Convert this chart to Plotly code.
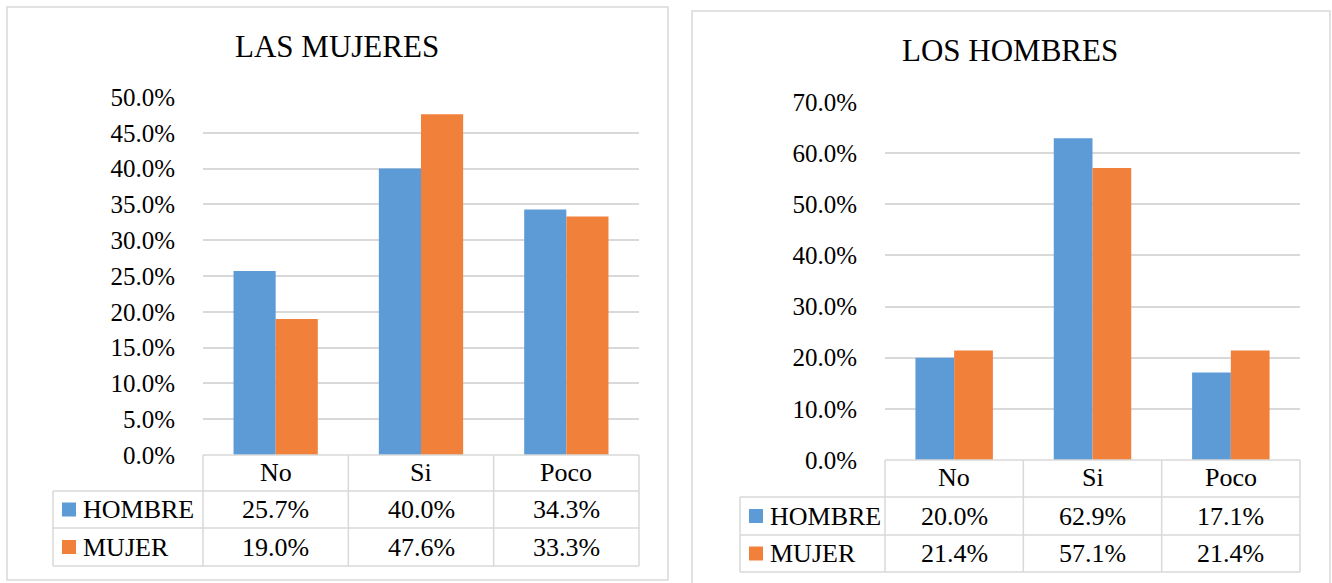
import plotly.graph_objects as go

categories = ["No", "Si", "Poco"]
series_names = ["HOMBRE", "MUJER"]
mujeres_hombre = [0.257, 0.400, 0.343]
mujeres_mujer = [0.190, 0.476, 0.333]
hombres_hombre = [0.200, 0.629, 0.171]
hombres_mujer = [0.214, 0.571, 0.214]
titles = ["LAS MUJERES", "LOS HOMBRES"]

W, H = 1332, 583
FONT = "Liberation Serif"
BLUE = "#5D9BD7"
ORANGE = "#F0803A"
GRID = "#D9D9D9"
COLORS = [BLUE, ORANGE]
TICK_SIZE = 25
TABLE_SIZE = 26
TITLE_SIZE = 31


def xp(x):
    return x / W


def yp(y):
    return 1 - y / H


panels = [
    dict(title=titles[0], data=[mujeres_hombre, mujeres_mujer], xa="x", ya="y",
         box=(7, 7, 668, 580), title_xy=(337, 47),
         px0=203, px1=639, y0=455, ytop=97, ymax=0.5, dtick=0.05,
         rows=(455, 491, 528, 566), leg_left=53, bw=0.29),
    dict(title=titles[1], data=[hombres_hombre, hombres_mujer], xa="x2", ya="y2",
         box=(692, 11, 1330, 590), title_xy=(1010, 51),
         px0=885, px1=1300, y0=460, ytop=102, ymax=0.7, dtick=0.1,
         rows=(460, 497, 535, 572), leg_left=740, bw=0.28),
]

fig = go.Figure()
shapes = []
annotations = []
layout_axes = {}

for i, p in enumerate(panels):
    sfx = "" if i == 0 else "2"
    for s, (name, vals) in enumerate(zip(series_names, p["data"])):
        fig.add_trace(go.Bar(
            x=categories, y=vals, name=name,
            marker=dict(color=COLORS[s], line=dict(width=0)),
            width=p["bw"], offset=(-p["bw"] if s == 0 else 0),
            xaxis=p["xa"], yaxis=p["ya"], showlegend=False,
            hovertemplate="%{x}: %{y:.1%}<extra>" + name + "</extra>",
        ))
    layout_axes["xaxis" + sfx] = dict(
        domain=[xp(p["px0"]), xp(p["px1"])], anchor=p["ya"],
        showgrid=False, showline=False, zeroline=False, automargin=False,
        showticklabels=False, ticks="",
        fixedrange=True,
    )
    layout_axes["yaxis" + sfx] = dict(
        domain=[yp(p["y0"]), yp(p["ytop"])], anchor=p["xa"],
        range=[0, p["ymax"]], dtick=p["dtick"], tick0=0,
        tickformat=".1%", showgrid=True, gridcolor=GRID, gridwidth=1.5,
        zeroline=False, showline=False, automargin=False,
        ticks="outside", ticklen=22, tickcolor="rgba(0,0,0,0)",
        tickfont=dict(family=FONT, size=TICK_SIZE, color="black"),
        fixedrange=True,
    )

    # panel border
    bx0, by0, bx1, by1 = p["box"]
    shapes.append(dict(type="rect", xref="paper", yref="paper",
                       x0=xp(bx0), x1=xp(bx1), y0=yp(by1), y1=yp(by0),
                       line=dict(color=GRID, width=1.5), layer="below"))
    # title
    annotations.append(dict(text=p["title"], xref="paper", yref="paper",
                            x=xp(p["title_xy"][0]), y=yp(p["title_xy"][1]),
                            xanchor="center", yanchor="middle", showarrow=False,
                            font=dict(family=FONT, size=TITLE_SIZE, color="black")))

    # data table lines
    r0, r1, r2, r3 = p["rows"]
    left = p["leg_left"]
    xs = [p["px0"] + (p["px1"] - p["px0"]) * k / 3 for k in range(4)]
    lw = dict(color=GRID, width=1.5)
    shapes.append(dict(type="line", xref="paper", yref="paper",
                       x0=xp(p["px0"]), x1=xp(p["px1"]), y0=yp(r0), y1=yp(r0), line=lw))
    for ry in (r1, r2, r3):
        shapes.append(dict(type="line", xref="paper", yref="paper",
                           x0=xp(left), x1=xp(p["px1"]), y0=yp(ry), y1=yp(ry), line=lw))
    shapes.append(dict(type="line", xref="paper", yref="paper",
                       x0=xp(left), x1=xp(left), y0=yp(r1), y1=yp(r3), line=lw))
    for vx in xs:
        shapes.append(dict(type="line", xref="paper", yref="paper",
                           x0=xp(vx), x1=xp(vx), y0=yp(r0), y1=yp(r3), line=lw))

    # header row: category names
    for c in categories:
        annotations.append(dict(text=c, xref=p["xa"], yref="paper",
                                x=c, y=yp((r0 + r1) / 2 - 1), xanchor="center", yanchor="middle",
                                showarrow=False,
                                font=dict(family=FONT, size=TABLE_SIZE, color="black")))

    # legend keys + labels, values
    row_bounds = [(r1, r2), (r2, r3)]
    for s, name in enumerate(series_names):
        ta, tb = row_bounds[s]
        cy = (ta + tb) / 2
        shapes.append(dict(type="rect", xref="paper", yref="paper",
                           x0=xp(left + 9), x1=xp(left + 23),
                           y0=yp(cy + 7), y1=yp(cy - 7),
                           fillcolor=COLORS[s], line=dict(width=0)))
        annotations.append(dict(text=name, xref="paper", yref="paper",
                                x=xp(left + 28), y=yp(cy), xanchor="left", yanchor="middle",
                                showarrow=False,
                                font=dict(family=FONT, size=TABLE_SIZE, color="black")))
        for c, v in zip(categories, p["data"][s]):
            annotations.append(dict(text=f"{v * 100:.1f}%", xref=p["xa"], yref="paper",
                                    x=c, y=yp(cy), xanchor="center", yanchor="middle",
                                    showarrow=False,
                                    font=dict(family=FONT, size=TABLE_SIZE, color="black")))

fig.update_layout(
    width=W, height=H,
    margin=dict(l=0, r=0, t=0, b=0, autoexpand=False),
    paper_bgcolor="white", plot_bgcolor="white",
    barmode="group",
    shapes=shapes, annotations=annotations,
    font=dict(family=FONT, color="black"),
    **layout_axes,
)

fig.write_html(
    "out.html",
    config={"displayModeBar": False},
    post_script="document.body.style.margin='0';document.body.style.overflow='hidden';",
)
